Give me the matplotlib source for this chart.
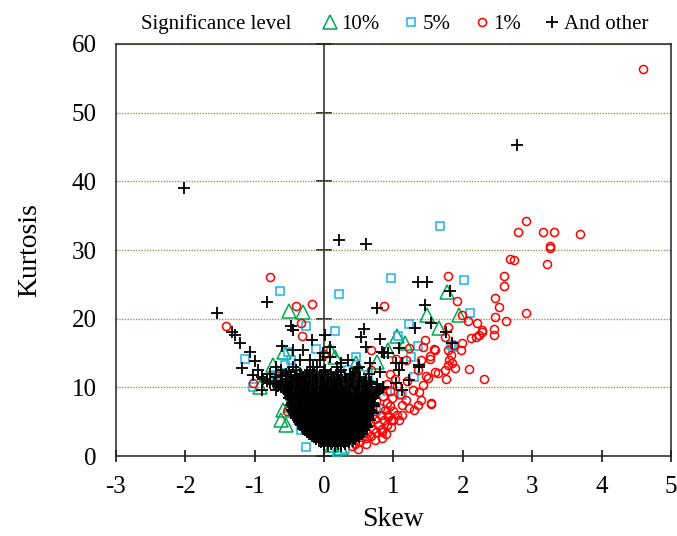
import numpy as np
import matplotlib
matplotlib.use("Agg")
import matplotlib.pyplot as plt
from matplotlib.lines import Line2D

plt.rcParams['font.family'] = ['Liberation Serif', 'DejaVu Serif']
plt.rcParams['axes.unicode_minus'] = False

# (skew, kurtosis) pairs per significance level
pts_10 = [
    (1.77, 23.9), (1.48, 20.6), (1.95, 20.6), (1.65, 18.6), (1.05, 17.5),
    (1.17, 16.4), (0.92, 15.5), (0.76, 13.7), (-0.30, 21.0), (-0.50, 21.1),
    (0.09, 15.5), (0.15, 14.5), (0.46, 13.5), (-0.74, 13.2), (-0.93, 10.0),
    (-0.58, 15.2), (-0.59, 6.7), (-0.62, 5.2), (-0.45, 9.0), (-0.20, 11.5),
    (0.30, 11.0), (0.55, 8.5), (-0.55, 4.5), (0.12, 1.6), (0.70, 10.0),
    (-0.48, 7.5), (0.25, 1.2), (-0.35, 12.0), (0.40, 9.6),
]

pts_5 = [
    (1.67, 33.5), (2.01, 25.6), (2.10, 20.8), (0.97, 26.0), (0.22, 23.6),
    (1.22, 19.3), (0.15, 18.2), (1.06, 17.5), (1.36, 16.1), (1.25, 14.4),
    (0.46, 14.5), (1.86, 15.9), (1.30, 11.5), (-0.26, 1.4), (0.19, 0.5),
    (-0.63, 24.1), (-0.26, 19.0), (-1.14, 14.1), (-1.02, 10.0), (-0.48, 14.0),
    (-0.57, 13.3), (-0.12, 15.6), (-0.50, 11.2), (-0.34, 3.8), (-0.38, 6.7),
    (-0.52, 15.2), (-0.69, 11.8), (0.64, 11.8), (1.13, 8.9), (1.83, 16.2),
    (-0.30, 9.5), (0.00, 12.0), (0.35, 12.5), (0.90, 9.5), (-0.40, 8.0),
    (0.60, 10.5), (0.10, 10.5), (0.30, 1.0), (0.75, 6.5),
]

pts_1 = [
    (4.60, 56.3), (2.91, 34.2), (2.80, 32.6), (3.15, 32.6), (3.32, 32.6),
    (3.69, 32.3), (3.25, 30.6), (3.25, 30.3), (2.68, 28.7), (2.74, 28.6),
    (3.22, 28.0), (1.79, 26.2), (2.59, 26.2), (2.60, 24.8), (1.91, 22.6),
    (2.47, 23.0), (2.52, 21.7), (1.99, 20.5), (2.46, 20.3), (2.91, 20.9),
    (2.07, 19.6), (2.21, 19.4), (2.62, 19.6), (1.79, 18.8), (2.45, 18.5),
    (2.28, 18.4), (2.45, 17.6), (2.27, 18.1), (2.23, 17.7), (2.19, 17.3),
    (2.12, 17.2), (1.74, 17.4), (1.99, 16.5), (1.97, 15.5), (1.87, 16.2),
    (1.78, 15.5), (1.83, 14.7), (1.80, 14.0), (1.85, 13.5), (1.78, 13.3),
    (1.88, 12.8), (2.09, 12.7), (2.30, 11.2), (1.60, 15.5), (1.53, 14.6),
    (1.46, 16.9), (1.43, 15.9), (1.50, 11.4), (1.60, 12.2), (1.64, 12.1),
    (1.74, 12.5), (1.54, 7.6), (1.76, 11.3), (1.22, 15.7), (1.59, 15.6),
    (1.52, 14.2), (1.40, 14.0), (1.35, 12.5), (1.47, 11.6), (1.18, 14.0),
    (1.04, 14.2), (0.68, 15.5), (0.67, 12.5), (0.86, 21.9), (-0.18, 22.1),
    (-0.78, 26.1), (-0.40, 21.8), (-1.42, 19.0), (-0.34, 19.4), (-0.32, 17.5),
    (-1.02, 10.7), (-0.66, 11.7), (-0.30, 10.6), (0.00, 14.9), (-0.54, 6.5),
    (1.42, 10.3), (1.37, 9.4), (1.54, 7.7), (1.40, 8.2), (1.28, 9.6),
    (1.35, 7.4), (1.30, 6.7), (1.23, 7.0), (1.18, 8.2), (1.13, 6.0),
    (1.08, 5.2), (0.99, 5.2), (0.97, 4.3), (0.92, 5.7), (0.84, 3.5),
    (0.83, 2.7), (0.61, 1.8), (0.49, 1.0), (0.73, 2.4), (0.89, 3.2),
    (0.45, 1.8), (0.52, 2.2), (0.60, 2.6), (0.68, 3.0), (0.75, 3.5),
    (0.83, 4.0), (0.90, 4.6), (0.97, 5.2), (0.40, 1.5), (0.55, 2.8),
    (0.62, 3.4), (0.70, 4.0), (0.78, 4.6), (0.86, 5.3), (0.92, 6.0),
    (1.00, 6.6), (0.58, 4.2), (0.66, 4.8), (0.74, 5.4), (0.82, 6.0),
    (0.88, 6.7), (0.95, 7.3), (0.70, 6.2), (0.80, 7.0), (0.90, 7.8),
    (0.98, 8.5), (0.75, 8.0), (0.85, 8.8), (0.95, 9.5), (1.05, 10.2),
    (0.80, 9.8), (0.90, 10.5), (1.02, 11.2), (1.10, 9.0), (1.12, 7.5),
    (1.05, 6.0), (0.13, 11.5), (0.62, 11.0), (0.95, 12.0), (1.20, 11.0),
]

# scattered "and other" points outside the central cloud
pts_other = [
    (-2.02, 39.1), (0.21, 31.4), (0.60, 30.9), (2.78, 45.3), (1.36, 25.3),
    (1.49, 25.4), (1.82, 24.1), (1.46, 22.0), (0.76, 21.5), (1.54, 19.4),
    (1.31, 18.6), (1.76, 18.1), (1.84, 16.5), (0.58, 18.5), (0.53, 17.4),
    (0.80, 17.0), (0.61, 15.9), (1.08, 15.7), (0.87, 15.0), (1.37, 13.3),
    (0.01, 17.6), (-1.55, 20.9), (-0.83, 22.4), (-1.33, 18.1), (-1.28, 17.6),
    (-1.21, 16.4), (-1.07, 15.1), (-0.99, 13.8), (-1.18, 12.8), (-1.02, 11.8),
    (-0.88, 11.3), (-0.90, 9.6), (-0.78, 10.6), (-0.69, 9.6), (-0.54, 11.6),
    (-0.45, 15.5), (-0.47, 18.9), (-0.45, 18.4), (-0.18, 16.9), (-0.30, 15.5),
    (-0.61, 16.0), (-0.35, 14.0), (-0.21, 14.0), (-0.16, 13.0), (-0.06, 14.0),
    (-0.02, 15.0), (0.08, 15.9), (0.08, 14.5), (0.24, 13.5), (0.35, 14.0),
    (0.84, 15.2), (0.92, 15.0), (1.04, 13.5), (1.13, 13.5), (1.08, 12.5),
    (1.37, 13.0), (1.23, 11.1), (1.04, 10.6), (1.13, 9.6), (0.66, 13.5),
    (0.48, 12.8), (0.80, 12.2),
]

# central cloud of "and other" points, row by row of kurtosis
cloud_rows = [
    (1.5, [0.05, 0.15, 0.25]),
    (1.75, [0.00, 0.10, 0.20, 0.30]),
    (2.0, [-0.05, 0.05, 0.12, 0.20, 0.28, 0.36]),
    (2.25, [-0.08, 0.02, 0.10, 0.18, 0.26, 0.34, 0.42]),
    (2.5, [-0.12, -0.02, 0.06, 0.14, 0.22, 0.30, 0.38, 0.45]),
    (2.75, [-0.15, -0.05, 0.03, 0.11, 0.19, 0.27, 0.35, 0.43, 0.50]),
    (3.0, [-0.18, -0.08, 0.00, 0.08, 0.16, 0.24, 0.32, 0.40, 0.48]),
    (3.25, [-0.22, -0.12, -0.04, 0.05, 0.13, 0.21, 0.29, 0.37, 0.45, 0.54]),
    (3.5, [-0.25, -0.15, -0.06, 0.03, 0.11, 0.19, 0.27, 0.35, 0.43, 0.52]),
    (3.75, [-0.28, -0.18, -0.08, 0.01, 0.09, 0.17, 0.25, 0.33, 0.41, 0.50, 0.58]),
    (4.0, [-0.30, -0.20, -0.10, 0.00, 0.08, 0.16, 0.24, 0.32, 0.40, 0.48, 0.56]),
    (4.25, [-0.31, -0.21, -0.11, -0.02, 0.07, 0.15, 0.23, 0.31, 0.39, 0.47, 0.55, 0.62]),
    (4.5, [-0.33, -0.23, -0.13, -0.04, 0.05, 0.13, 0.21, 0.29, 0.37, 0.45, 0.53, 0.60]),
    (4.75, [-0.35, -0.25, -0.15, -0.05, 0.04, 0.12, 0.20, 0.28, 0.36, 0.44, 0.52, 0.60]),
    (5.0, [-0.36, -0.26, -0.16, -0.07, 0.02, 0.10, 0.18, 0.26, 0.34, 0.42, 0.50, 0.58]),
    (5.25, [-0.38, -0.28, -0.18, -0.08, 0.01, 0.10, 0.18, 0.26, 0.34, 0.42, 0.50, 0.58, 0.66]),
    (5.5, [-0.40, -0.30, -0.20, -0.10, 0.00, 0.08, 0.16, 0.24, 0.32, 0.40, 0.48, 0.56, 0.63]),
    (5.75, [-0.41, -0.31, -0.21, -0.11, -0.02, 0.07, 0.15, 0.23, 0.31, 0.39, 0.47, 0.55, 0.64]),
    (6.0, [-0.42, -0.32, -0.22, -0.12, -0.03, 0.06, 0.14, 0.22, 0.30, 0.38, 0.46, 0.54, 0.62]),
    (6.25, [-0.44, -0.34, -0.24, -0.14, -0.04, 0.05, 0.13, 0.21, 0.29, 0.37, 0.45, 0.53, 0.61, 0.70]),
    (6.5, [-0.45, -0.35, -0.25, -0.15, -0.05, 0.04, 0.12, 0.20, 0.28, 0.36, 0.44, 0.52, 0.60, 0.68]),
    (6.75, [-0.46, -0.36, -0.26, -0.16, -0.06, 0.03, 0.11, 0.19, 0.27, 0.35, 0.43, 0.51, 0.59, 0.67]),
    (7.0, [-0.43, -0.33, -0.23, -0.13, -0.03, 0.06, 0.15, 0.23, 0.31, 0.39, 0.47, 0.55, 0.63]),
    (7.25, [-0.45, -0.35, -0.25, -0.15, -0.05, 0.04, 0.13, 0.21, 0.29, 0.37, 0.45, 0.53, 0.62, 0.72]),
    (7.5, [-0.47, -0.37, -0.27, -0.17, -0.07, 0.02, 0.11, 0.20, 0.28, 0.36, 0.44, 0.52, 0.60, 0.70]),
    (7.75, [-0.46, -0.36, -0.26, -0.16, -0.06, 0.03, 0.12, 0.20, 0.28, 0.36, 0.44, 0.52, 0.61, 0.70]),
    (8.0, [-0.45, -0.34, -0.24, -0.14, -0.04, 0.05, 0.14, 0.22, 0.30, 0.38, 0.47, 0.56, 0.66]),
    (8.25, [-0.48, -0.37, -0.27, -0.17, -0.07, 0.03, 0.12, 0.21, 0.30, 0.39, 0.48, 0.57, 0.68]),
    (8.5, [-0.50, -0.38, -0.28, -0.18, -0.08, 0.02, 0.12, 0.21, 0.30, 0.39, 0.48, 0.58, 0.70]),
    (8.75, [-0.49, -0.37, -0.26, -0.15, -0.05, 0.05, 0.15, 0.25, 0.34, 0.44, 0.54, 0.65]),
    (9.0, [-0.48, -0.35, -0.24, -0.13, -0.02, 0.08, 0.18, 0.28, 0.38, 0.48, 0.60, 0.74]),
    (9.25, [-0.52, -0.40, -0.28, -0.16, -0.04, 0.06, 0.16, 0.27, 0.38, 0.50, 0.62, 0.76]),
    (9.5, [-0.55, -0.42, -0.30, -0.18, -0.06, 0.05, 0.15, 0.26, 0.37, 0.50, 0.62, 0.78]),
    (9.75, [-0.58, -0.46, -0.34, -0.22, -0.10, 0.02, 0.13, 0.25, 0.37, 0.50, 0.64, 0.80]),
    (10.0, [-0.62, -0.50, -0.38, -0.25, -0.12, 0.00, 0.12, 0.24, 0.36, 0.50, 0.66, 0.85]),
    (10.25, [-0.66, -0.52, -0.38, -0.24, -0.10, 0.04, 0.18, 0.32, 0.47, 0.62]),
    (10.5, [-0.72, -0.56, -0.40, -0.22, -0.05, 0.10, 0.25, 0.42, 0.58, 0.76]),
    (10.75, [-0.62, -0.48, -0.32, -0.16, 0.00, 0.15, 0.32, 0.50, 0.68]),
    (11.0, [-0.82, -0.60, -0.45, -0.28, -0.10, 0.06, 0.22, 0.40, 0.60]),
    (11.25, [-0.55, -0.38, -0.20, -0.02, 0.14, 0.32, 0.50]),
    (11.5, [-0.90, -0.70, -0.48, -0.30, -0.12, 0.05, 0.30, 0.52]),
    (11.75, [-0.60, -0.40, -0.22, -0.04, 0.18, 0.42]),
    (12.0, [-0.78, -0.55, -0.35, -0.15, 0.10, 0.38, 0.65]),
    (12.25, [-0.50, -0.25, 0.00, 0.20, 0.45]),
    (12.5, [-0.95, -0.62, -0.40, -0.20, 0.02, 0.25]),
    (13.0, [-0.70, -0.45, -0.10, 0.18, 0.50]),
]

cloud = [(s, k) for k, row in cloud_rows for s in row]
other = np.array(pts_other + cloud)
p10 = np.array(pts_10)
p5 = np.array(pts_5)
p1 = np.array(pts_1)

green = '#00a651'
blue = '#1ab2e8'
red = '#ff0000'

fig = plt.figure(figsize=(6.77, 5.36), dpi=100)
ax = fig.add_axes([0.1713, 0.149, 0.8198, 0.769])

ax.plot(p10[:, 0], p10[:, 1], '^', ms=10, mfc='none', mec=green, mew=1.1, zorder=3)
ax.plot(p5[:, 0], p5[:, 1], 's', ms=5.5, mfc='none', mec=blue, mew=1.1, zorder=3)
ax.plot(p1[:, 0], p1[:, 1], 'o', ms=5.8, mfc='none', mec=red, mew=1.1, zorder=3)
ax.plot(other[:, 0], other[:, 1], '+', ms=8, mec='black', mew=1.3, zorder=4)

ax.set_xlim(-3, 5)
ax.set_ylim(0, 60)
ax.set_xticks(range(-3, 6))
ax.set_yticks(range(0, 61, 10))

ax.grid(axis='y', color='#9b9455', linestyle=(0, (1, 1)), linewidth=1.0)
ax.set_axisbelow(True)

for sp in ax.spines.values():
    sp.set_linewidth(1.1)
    sp.set_color('#222222')

ax.tick_params(axis='x', direction='inout', length=9, width=1.1, pad=10, labelsize=18)
ax.tick_params(axis='y', length=0, pad=14, labelsize=18)

# vertical axis through skew = 0 carrying the kurtosis ticks
sec = ax.secondary_yaxis(3 / 8)
sec.set_yticks(range(0, 61, 10))
sec.tick_params(direction='inout', length=12, width=1.1, labelleft=False, labelright=False)
sec.spines['left'].set_linewidth(1.1)
sec.spines['left'].set_color('#222222')

ax.set_xlabel('Skew', fontsize=20, labelpad=6)
ax.set_ylabel('Kurtosis', fontsize=20, labelpad=21)

fig.text(0.208, 0.955, 'Significance level', fontsize=15, va='center', ha='left')
handles = [
    Line2D([], [], ls='none', marker='^', ms=10, mfc='none', mec=green, mew=1.1),
    Line2D([], [], ls='none', marker='s', ms=5.5, mfc='none', mec=blue, mew=1.1),
    Line2D([], [], ls='none', marker='o', ms=5.8, mfc='none', mec=red, mew=1.1),
    Line2D([], [], ls='none', marker='+', ms=8, mec='black', mew=1.3),
]
ax.legend(handles, ['10%', '5%', '1%', 'And other'], loc='center left',
          bbox_to_anchor=(0.475, 0.955), bbox_transform=fig.transFigure,
          ncol=4, frameon=False, fontsize=15, handlelength=0.8,
          handletextpad=0.15, columnspacing=1.1, borderpad=0, borderaxespad=0)

fig.savefig('out.png', dpi=100)
